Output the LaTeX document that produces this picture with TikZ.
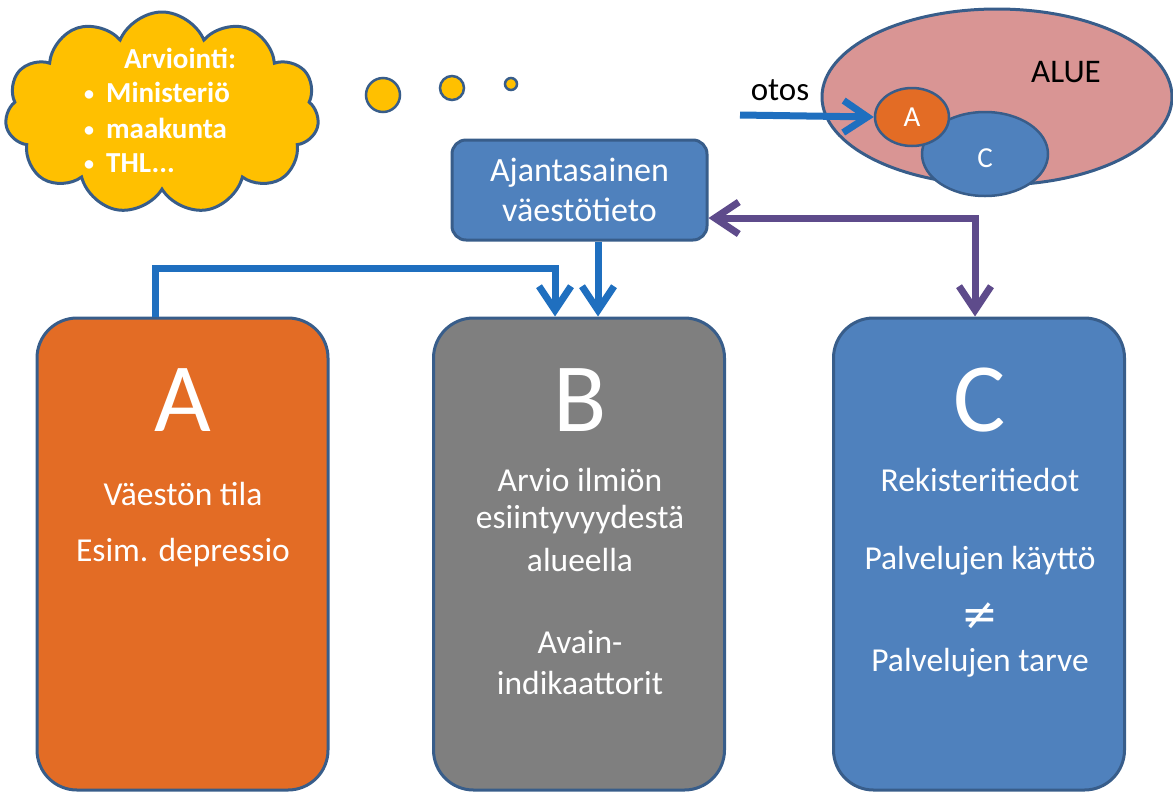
\documentclass[tikz,border=0pt]{standalone}
\usepackage{fontspec}
\setmainfont{Carlito}
\newfontfamily\djv{DejaVu Sans}
\usetikzlibrary{shapes.symbols,shapes.geometric,arrows.meta}
\definecolor{orng}{HTML}{E36C25}
\definecolor{gry}{HTML}{7F7F7F}
\definecolor{blu}{HTML}{4F81BD}
\definecolor{edge}{HTML}{385D8A}
\definecolor{arr}{HTML}{1F6FBF}
\definecolor{purp}{HTML}{5E4B8B}
\definecolor{yel}{HTML}{FFC000}
\definecolor{pink}{HTML}{D99594}
\tikzset{
  bigbox/.style={draw=edge, line width=3pt, rounded corners=40pt, minimum width=291pt, minimum height=472pt, inner sep=0pt},
  wtxt/.style={text=white, font=\fontsize{33.5}{38}\selectfont, inner sep=0pt, anchor=center},
  bigletter/.style={text=white, font=\fontsize{98}{100}\selectfont, inner sep=0pt},
  conn/.style={line width=7pt, draw=arr, arrows={-Straight Barb[length=24pt,width=32pt,line width=7pt]}},
  pconn/.style={line width=7pt, draw=purp, arrows={Straight Barb[length=24pt,width=32pt,line width=7pt]-Straight Barb[length=24pt,width=32pt,line width=7pt]}},
  bubble/.style={circle, draw=edge, line width=2.5pt, fill=yel, inner sep=0pt},
  ctxt/.style={text=white, font=\fontsize{29}{32}\selectfont\bfseries, inner sep=0pt, anchor=west},
}
\begin{document}
\begin{tikzpicture}[x=1pt,y=-1pt]
\useasboundingbox (0,0) rectangle (1173,796);
% cloud
\node[cloud, cloud puffs=11, cloud puff arc=135, aspect=1.5, draw=edge, line width=3pt, fill=yel,
  minimum width=314pt, minimum height=202pt, inner sep=0pt] (cloud) at (162,113) {};
\node[text=white, font=\fontsize{29}{32}\selectfont\bfseries, inner sep=0pt] (cl0) at (180,58) {Arviointi:};
\node[ctxt] (cl1) at (84,92) {\raisebox{2pt}{\fontsize{20}{20}\selectfont•}\hspace{12pt}Ministeriö};
\node[ctxt] (cl2) at (84,128) {\raisebox{2pt}{\fontsize{20}{20}\selectfont•}\hspace{12pt}maakunta};
\node[ctxt] (cl3) at (84,163) {\raisebox{2pt}{\fontsize{20}{20}\selectfont•}\hspace{12pt}THL...};
% bubbles
\node[bubble, minimum size=34pt] (b1) at (383,95) {};
\node[bubble, minimum size=24pt] (b2) at (452,88) {};
\node[bubble, minimum size=12pt] (b3) at (511,84) {};
% region ellipses
\node[ellipse, draw=edge, line width=3pt, fill=pink, minimum width=350pt, minimum height=176pt, inner sep=0pt] (alue) at (997,97) {};
\node[ellipse, draw=edge, line width=2.5pt, fill=blu, minimum width=126pt, minimum height=84pt, inner sep=0pt] (ec) at (985,154) {};
\node[ellipse, draw=edge, line width=2.5pt, fill=orng, minimum width=74pt, minimum height=58pt, inner sep=0pt] (ea) at (912,117) {};
\node[text=white, font=\fontsize{29}{30}\selectfont, inner sep=0pt] (eat) at (ea) {A};
\node[text=white, font=\fontsize{29}{30}\selectfont, inner sep=0pt] (ect) at (985,158) {C};
\node[font=\fontsize{33}{34}\selectfont, inner sep=0pt] (aluet) at (1066,72) {ALUE};
\node[font=\fontsize{33}{34}\selectfont, inner sep=0pt] (otos) at (780,90) {otos};
\coordinate (otosstart) at (740,115);
\draw[conn] (otosstart) -- (ea.west);
% Ajantasainen
\node[draw=edge, line width=3pt, fill=blu, rounded corners=14pt, minimum width=255pt, minimum height=100pt, inner sep=0pt,
  text=white, font=\fontsize{34}{40}\selectfont, align=center] (aj) at (579.5,190) {Ajantasainen\\väestötieto};
% big boxes
\node[bigbox, fill=orng] (A) at (182.5,554) {};
\node[bigbox, fill=gry] (B) at (579,554) {};
\node[bigbox, fill=blu] (C) at (979,554) {};
\node[bigletter] (At) at (183,400) {A};
\node[bigletter] (Bt) at (580,400) {B};
\node[bigletter] (Ct) at (980,400) {C};
\node[wtxt] (a1) at (183,494) {Väestön tila};
\node[wtxt] (a2) at (183,553) {Esim. depressio};
\node[wtxt] (b1t) at (580,480) {Arvio ilmiön};
\node[wtxt] (b2t) at (580,520) {esiintyvyydestä};
\node[wtxt] (b3t) at (580,560) {alueella};
\node[wtxt] (b4t) at (580,642) {Avain-};
\node[wtxt] (b5t) at (580,683) {indikaattorit};
\node[wtxt] (c1) at (980,480) {Rekisteritiedot};
\node[wtxt] (c2) at (980,561) {Palvelujen käyttö};
\node[wtxt, font=\djv\fontsize{44}{46}\selectfont] (c3) at (980,616) {≠};
\node[wtxt] (c4) at (980,663) {Palvelujen tarve};
% connectors
\draw[conn] (A.north -| 155,0) -- (155,268) -- (555,268) -- (B.north -| 555,0);
\draw[conn] (aj.south -| 598,0) -- (B.north -| 598,0);
\draw[pconn] (aj.east |- 0,218) -- (975,218) -- (C.north -| 975,0);
\end{tikzpicture}
\end{document}
